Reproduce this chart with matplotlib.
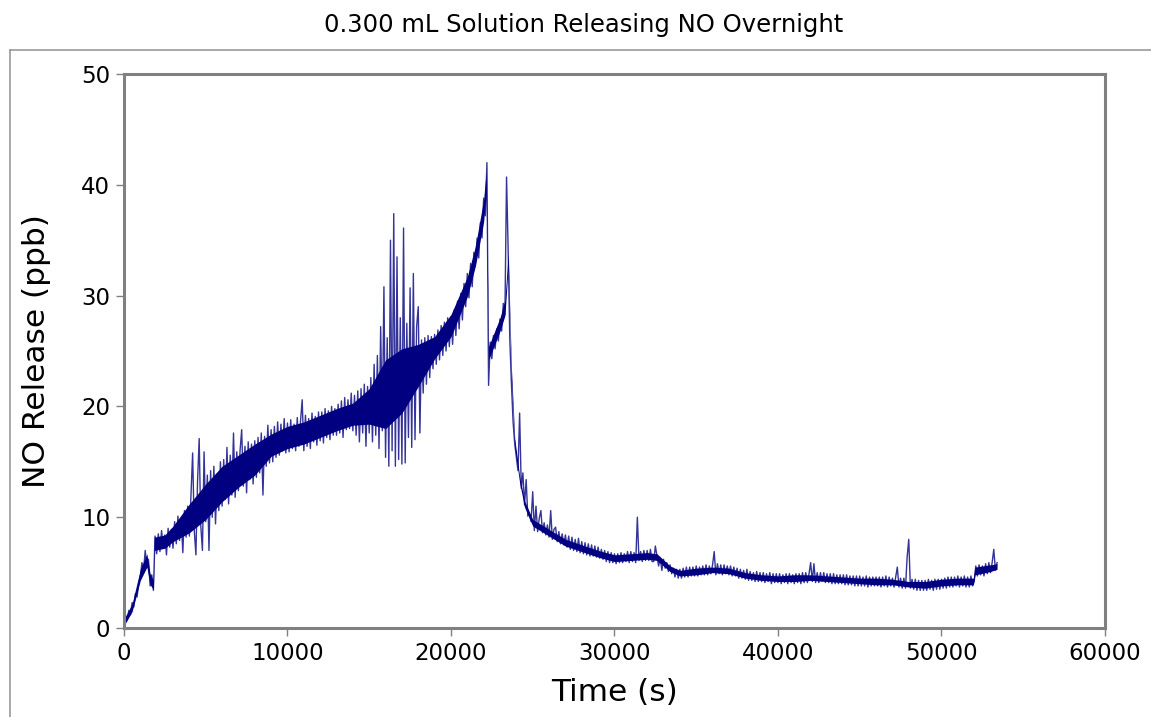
import numpy as np
import matplotlib
matplotlib.use('Agg')
import matplotlib.pyplot as plt
from matplotlib.lines import Line2D

# logger sampling step, s
sample_step = 100

# NO release, ppb (one line = 1000 s)
no_ppb = [
    0.3, 1.1, 0.7, 1.6, 1.2, 2.3, 1.9, 3.1, 2.8, 4.0,          # 0
    4.6, 5.9, 5.2, 7.0, 5.6, 6.2, 3.8, 4.8, 3.4, 8.3,          # 1000
    6.7, 8.5, 6.9, 8.8, 7.2, 8.4, 6.6, 9.0, 7.3, 8.9,          # 2000
    7.2, 9.6, 7.6, 10.1, 7.9, 9.9, 6.8, 10.6, 8.2, 11.0,       # 3000
    8.3, 12.0, 15.8, 8.8, 6.6, 13.2, 17.1, 9.2, 7.0, 15.9,     # 4000
    9.6, 13.8, 7.0, 14.2, 10.0, 14.6, 9.4, 13.9, 10.6, 15.0,   # 5000
    11.0, 15.2, 11.6, 16.3, 11.2, 15.6, 12.0, 17.6, 11.8, 15.9,  # 6000
    12.4, 16.0, 17.9, 12.8, 16.4, 12.2, 16.8, 13.4, 16.6, 13.0,  # 7000
    16.9, 13.6, 17.2, 14.0, 17.6, 12.0, 17.3, 14.6, 18.3, 14.9,  # 8000
    17.9, 15.0, 18.2, 15.4, 18.6, 15.6, 18.4, 16.0, 18.9, 15.8,  # 9000
    18.5, 15.9, 18.8, 16.2, 18.4, 16.0, 19.0, 16.4, 18.7, 20.6,  # 10000
    16.0, 19.2, 16.4, 18.9, 16.2, 19.4, 16.8, 19.1, 16.5, 19.5,  # 11000
    16.9, 19.5, 16.7, 19.8, 17.2, 19.6, 17.0, 20.0, 17.4, 19.8,  # 12000
    17.4, 20.2, 17.6, 20.5, 17.2, 20.8, 17.9, 20.6, 18.0, 21.2,  # 13000
    17.8, 21.0, 17.4, 21.4, 16.8, 21.6, 17.6, 22.0, 16.4, 21.8,  # 14000
    17.6, 22.6, 16.8, 23.8, 17.4, 24.6, 16.2, 27.2, 17.8, 30.8,  # 15000
    15.4, 26.2, 14.6, 35.0, 16.0, 37.4, 14.6, 33.5, 15.2, 28.0,  # 16000
    14.8, 36.1, 14.9, 27.5, 17.2, 30.7, 16.3, 32.0, 17.0, 27.2,  # 17000
    29.0, 17.6, 26.0, 21.2, 26.2, 22.0, 26.4, 22.6, 26.3, 23.4,  # 18000
    26.5, 23.8, 26.9, 24.2, 27.3, 24.6, 27.6, 25.0, 28.0, 25.4,  # 19000
    28.1, 25.6, 28.7, 26.4, 29.5, 27.0, 30.2, 27.8, 31.1, 29.0,  # 20000
    32.0, 29.8, 32.9, 30.8, 33.9, 33.2, 35.2, 33.4, 36.6, 35.2,  # 21000
    38.8, 37.2, 42.0, 21.9, 25.8, 24.3, 26.4, 25.2, 27.0, 25.9,  # 22000
    27.9, 26.8, 29.3, 28.3, 40.7, 34.0, 26.0, 22.0, 18.6, 16.6,  # 23000
    15.4, 14.2, 19.4, 12.6, 14.0, 11.1, 13.4, 10.1, 10.3, 9.6,   # 24000
    12.3, 8.8, 11.0, 8.7, 9.9, 10.6, 8.6, 9.5, 8.4, 9.3,         # 25000
    8.2, 10.6, 8.0, 8.9, 9.1, 7.8, 8.7, 7.6, 8.5, 7.5,           # 26000
    8.4, 7.3, 8.3, 7.1, 8.2, 7.0, 8.0, 6.9, 8.1, 6.8,            # 27000
    7.8, 6.7, 7.7, 6.6, 7.6, 6.5, 7.5, 6.5, 7.4, 6.4,            # 28000
    7.3, 6.3, 7.1, 6.2, 7.0, 6.0, 6.9, 5.9, 6.8, 5.9,            # 29000
    6.7, 5.8, 6.7, 5.9, 6.8, 5.9, 6.7, 6.0, 6.9, 5.9,            # 30000
    6.9, 6.0, 6.8, 5.9, 10.0, 6.1, 6.9, 6.0, 7.0, 6.1,           # 31000
    7.0, 6.1, 7.1, 6.0, 6.0, 7.4, 6.5, 5.6, 6.3, 5.2,            # 32000
    6.2, 5.4, 5.9, 5.1, 5.7, 4.9, 5.4, 4.6, 5.3, 4.5,            # 33000
    5.3, 4.5, 5.4, 4.6, 5.5, 4.6, 5.5, 4.7, 5.5, 4.7,            # 34000
    5.6, 4.7, 5.5, 4.8, 5.6, 4.8, 5.7, 4.8, 5.6, 4.9,            # 35000
    5.7, 6.9, 4.8, 5.8, 4.9, 5.7, 4.8, 5.7, 4.9, 5.6,            # 36000
    4.8, 5.6, 4.7, 5.5, 4.7, 5.4, 4.5, 5.3, 4.5, 5.2,            # 37000
    4.4, 5.3, 4.3, 5.1, 4.3, 5.0, 4.2, 5.1, 4.2, 5.0,            # 38000
    4.2, 5.0, 4.1, 4.9, 4.2, 5.0, 4.0, 4.9, 4.1, 4.9,            # 39000
    4.1, 4.9, 4.0, 4.8, 4.1, 4.9, 4.0, 4.9, 4.1, 4.8,            # 40000
    4.0, 4.9, 4.1, 4.9, 4.0, 5.0, 4.1, 5.0, 4.1, 4.9,            # 41000
    5.9, 4.2, 5.8, 4.1, 5.0, 4.1, 5.0, 4.2, 5.0, 4.1,            # 42000
    4.9, 4.1, 4.9, 4.0, 4.9, 4.0, 4.8, 4.0, 4.8, 4.0,            # 43000
    4.8, 3.9, 4.8, 3.9, 4.7, 3.9, 4.7, 3.8, 4.7, 3.8,            # 44000
    4.7, 3.8, 4.6, 3.8, 4.7, 3.7, 4.6, 3.8, 4.6, 3.8,            # 45000
    4.6, 3.8, 4.6, 3.7, 4.6, 3.8, 4.7, 3.7, 4.6, 3.8,            # 46000
    4.5, 3.7, 4.6, 5.5, 3.7, 4.5, 3.6, 4.5, 3.6, 6.4,            # 47000
    8.0, 3.6, 4.4, 3.5, 4.4, 3.4, 4.3, 3.4, 4.3, 3.4,            # 48000
    4.3, 3.4, 4.4, 3.5, 4.3, 3.4, 4.4, 3.5, 4.4, 3.5,            # 49000
    4.4, 3.6, 4.5, 3.6, 4.6, 3.7, 4.6, 3.7, 4.6, 3.8,            # 50000
    4.7, 3.7, 4.6, 3.8, 4.7, 3.7, 4.6, 3.7, 4.7, 3.8,            # 51000
    4.2, 5.6, 4.7, 5.7, 4.8, 5.6, 4.7, 5.8, 4.9, 5.9,            # 52000
    5.0, 5.9, 7.1, 5.2, 5.9,                                     # 53000
]
time_s = np.arange(len(no_ppb)) * sample_step

# dense core of the noisy trace (where the line is solid), ppb
band_time_s = [0, 500, 1000, 1400, 1600, 1800, 1850, 2500, 3000, 4000,
               5000, 6000, 7000, 8000, 9000, 10000, 11000, 12000, 13000,
               14000, 15000, 16000, 17000, 18000, 19000, 20000, 21000,
               21500, 22000, 22150, 22300, 23000, 23300, 23500, 23700,
               23900, 24200, 24500, 25000, 26000, 27000, 28000, 29000,
               30000, 31000, 32000, 32600, 33400, 34000, 35000, 36000,
               37000, 38000, 39000, 40000, 41000, 42000, 43000, 44000,
               45000, 46000, 47000, 48000, 49000, 50000, 51000, 51950,
               52050, 53000, 53400]
band_low = [0.2, 1.5, 4.3, 5.5, 3.9, 3.5, 7.0, 7.2, 7.8, 8.6,
            9.8, 11.4, 12.7, 13.8, 15.5, 16.2, 16.6, 17.2, 17.8,
            18.3, 18.4, 18.0, 19.4, 21.8, 24.3, 26.3, 29.9,
            32.7, 36.7, 39.2, 24.2, 26.8, 28.2, 32.6, 22.2,
            16.3, 13.1, 10.9, 9.2, 8.3, 7.4, 6.9, 6.4,
            6.0, 6.1, 6.2, 6.1, 5.1, 4.7, 4.8, 5.0,
            4.9, 4.5, 4.3, 4.2, 4.2, 4.3, 4.2, 4.1,
            4.0, 3.9, 3.9, 3.7, 3.6, 3.8, 3.9, 3.9,
            4.8, 5.1, 5.3]
band_high = [0.8, 2.2, 5.3, 6.7, 4.9, 4.3, 8.2, 8.4, 9.2, 11.2,
             13.0, 14.6, 15.6, 16.6, 17.5, 18.2, 18.6, 19.2, 19.8,
             20.3, 21.6, 24.2, 25.2, 25.6, 26.3, 28.3, 31.7,
             34.5, 38.7, 41.2, 25.4, 28.0, 29.6, 33.8, 23.4,
             17.1, 13.7, 11.5, 9.8, 8.9, 8.0, 7.5, 7.0,
             6.6, 6.7, 6.8, 6.7, 5.6, 5.2, 5.4, 5.5,
             5.4, 5.0, 4.8, 4.7, 4.8, 4.8, 4.7, 4.6,
             4.5, 4.5, 4.4, 4.2, 4.2, 4.4, 4.5, 4.5,
             5.5, 5.7, 5.8]

x_ticks = [0, 10000, 20000, 30000, 40000, 50000, 60000]
y_ticks = [0, 10, 20, 30, 40, 50]

fig = plt.figure(figsize=(11.51, 7.17), dpi=100)
ax = fig.add_axes([0.1077, 0.1241, 0.8523, 0.7727])

ax.fill_between(band_time_s, band_low, band_high, color='#000080', lw=0)
ax.plot(time_s, no_ppb, color='#000080', lw=1.0, alpha=0.8)

ax.set_xlim(0, 60000)
ax.set_ylim(0, 50)
ax.set_xticks(x_ticks)
ax.set_yticks(y_ticks)
ax.tick_params(direction='out', length=6, width=1, color='#808080',
               labelsize=16.5, pad=4)

for side in ['left', 'bottom', 'top', 'right']:
    ax.spines[side].set_color('#808080')
    ax.spines[side].set_linewidth(2.2)

ax.set_xlabel('Time (s)', fontsize=22.5, va='center')
ax.xaxis.set_label_coords(0.5, -0.1155)
ax.set_ylabel('NO Release (ppb)', fontsize=22.5, va='center')
ax.yaxis.set_label_coords(-0.0887, 0.5)

fig.text(0.5074, 0.965, '0.300 mL Solution Releasing NO Overnight',
         ha='center', va='center', fontsize=17.5)

# outer chart frame (cut off at the picture edge)
fy = 1 - 50 / 717
fx = 10 / 1151
fig.add_artist(Line2D([fx, 1], [fy, fy], transform=fig.transFigure,
                      color='#999999', lw=1.2))
fig.add_artist(Line2D([fx, fx], [0, fy], transform=fig.transFigure,
                      color='#999999', lw=1.2))

fig.savefig('out.png', dpi=100)
